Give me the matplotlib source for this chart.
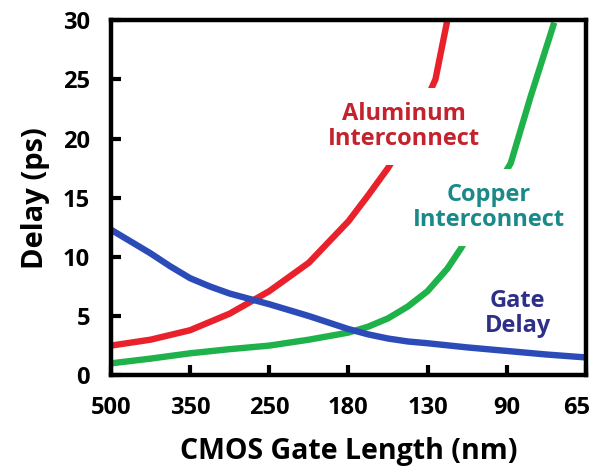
import matplotlib
matplotlib.use("Agg")
import matplotlib.pyplot as plt
from matplotlib.transforms import ScaledTranslation

# gate length nodes, evenly spaced along x
nodes = ["500", "350", "250", "180", "130", "90", "65"]

# positions are given in node index units (0 = 500 nm ... 6 = 65 nm)
al_pos = [0, 0.5, 1, 1.5, 2, 2.5, 3, 3.25, 3.5, 3.75, 4, 4.1, 4.25]
al_delay = [2.5, 3.0, 3.8, 5.2, 7.1, 9.5, 13.0, 15.2, 17.5, 20.3, 23.5, 25.0, 30.0]

cu_pos = [0, 0.5, 1, 1.5, 2, 2.5, 3, 3.25, 3.5, 3.75, 4, 4.25, 4.42, 4.7, 5.05, 5.3, 5.6]
cu_delay = [1.0, 1.4, 1.85, 2.2, 2.5, 3.0, 3.6, 4.1, 4.8, 5.8, 7.1, 9.0, 10.7, 14.0, 17.9, 23.5, 29.8]

gate_pos = [0, 0.25, 0.5, 0.75, 1, 1.25, 1.5, 2, 2.5, 3, 3.25, 3.5, 3.75, 4, 4.5, 5, 5.5, 6]
gate_delay = [12.3, 11.3, 10.3, 9.2, 8.2, 7.5, 6.9, 6.0, 5.0, 3.9, 3.45, 3.1, 2.85, 2.7,
              2.35, 2.05, 1.75, 1.5]

plt.rcParams["font.family"] = ["Open Sans", "DejaVu Sans"]
plt.rcParams["font.weight"] = "bold"

fig = plt.figure(figsize=(5.93, 4.69), dpi=100)
ax = fig.add_axes([0.187, 0.2, 0.801, 0.757])

lw = 4.6
ax.plot(al_pos, al_delay, color="#e8212b", lw=lw, solid_capstyle="butt",
        solid_joinstyle="round", zorder=3)
ax.plot(cu_pos, cu_delay, color="#1fb24b", lw=lw, solid_capstyle="butt",
        solid_joinstyle="round", zorder=3)
ax.plot(gate_pos, gate_delay, color="#2b4bb8", lw=lw, solid_capstyle="butt",
        solid_joinstyle="round", zorder=4)

# labels sit on white boxes so the curves break around them
box = dict(facecolor="white", edgecolor="none", pad=10)
ax.text(3.70, 21.0, "Aluminum\nInterconnect", color="#c4222d", fontsize=17,
        fontweight="bold", ha="center", va="center", linespacing=1.05,
        bbox=box, zorder=5)
ax.text(4.77, 14.2, "Copper\nInterconnect", color="#1a8a88", fontsize=17,
        fontweight="bold", ha="center", va="center", linespacing=1.05,
        bbox=box, zorder=5)
ax.text(5.14, 5.2, "Gate\nDelay", color="#2e2f88", fontsize=17,
        fontweight="bold", ha="center", va="center", linespacing=1.05,
        zorder=5)

ax.set_xlim(0, 6)
ax.set_ylim(0, 30)
ax.set_xticks(range(len(nodes)))
ax.set_xticklabels(nodes)
ax.set_yticks([0, 5, 10, 15, 20, 25, 30])

for s in ax.spines.values():
    s.set_linewidth(3.2)
    s.set_zorder(6)
ax.tick_params(direction="in", length=7, width=3, labelsize=17)
ax.tick_params(axis="x", pad=15)
ax.tick_params(axis="y", pad=15)
for lab in ax.get_xticklabels() + ax.get_yticklabels():
    lab.set_fontweight("bold")

# last node label is pulled in so it stays inside the figure
last = ax.get_xticklabels()[-1]
last.set_transform(last.get_transform() + ScaledTranslation(-0.09, 0, fig.dpi_scale_trans))

ax.set_xlabel("CMOS Gate Length (nm)", fontsize=20.5, fontweight="bold", labelpad=12)
ax.set_ylabel("Delay (ps)", fontsize=21, fontweight="bold", labelpad=9)

fig.savefig("out.png", dpi=100)
